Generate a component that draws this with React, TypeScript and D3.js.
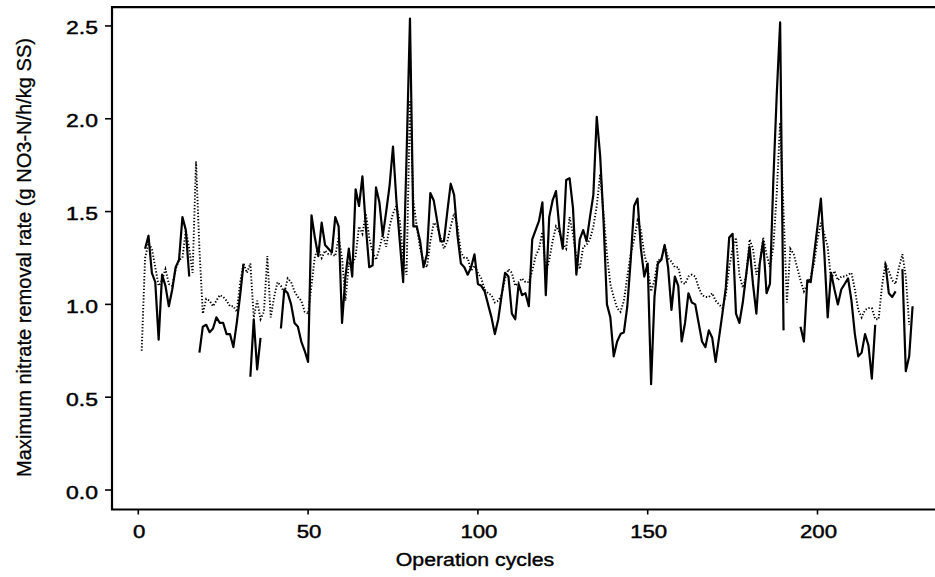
import React from "react";
import * as d3 from "d3";

// cycle = index + 1 ; null = no observation
const measured: (number | null)[] = [
  null, 1.30, 1.37, 1.17, 1.12, 0.81, 1.16, 1.10, 0.99, 1.08,
  1.20, 1.24, 1.47, 1.40, 1.15, null, null, 0.74, 0.88, 0.89,
  0.85, 0.87, 0.93, 0.90, 0.90, 0.84, 0.84, 0.77, 0.90, 1.05,
  1.22, null, 0.61, 0.92, 0.65, 0.82, null, null, null, null,
  null, 0.87, 1.08, 1.06, 1.00, 0.90, 0.88, 0.80, 0.75, 0.69,
  1.48, 1.36, 1.26, 1.44, 1.32, 1.30, 1.28, 1.47, 1.42, 0.90,
  1.15, 1.30, 1.15, 1.62, 1.53, 1.69, 1.42, 1.20, 1.21, 1.63,
  1.55, 1.37, 1.50, 1.64, 1.85, 1.56, 1.34, 1.12, 1.80, 2.54,
  1.42, 1.42, 1.34, 1.20, 1.27, 1.60, 1.56, 1.45, 1.34, 1.34,
  1.50, 1.65, 1.59, 1.37, 1.22, 1.20, 1.16, 1.20, 1.27, 1.11,
  1.10, 1.07, 1.00, 0.93, 0.84, 0.92, 1.05, 1.17, 1.15, 0.95,
  0.92, 1.11, 1.05, 1.06, 0.99, 1.35, 1.40, 1.45, 1.55, 1.05,
  1.47, 1.56, 1.61, 1.41, 1.30, 1.67, 1.68, 1.52, 1.16, 1.35,
  1.40, 1.34, 1.47, 1.59, 2.01, 1.80, 1.45, 1.00, 0.93, 0.72,
  0.80, 0.84, 0.85, 0.99, 1.24, 1.53, 1.57, 1.30, 1.15, 1.22,
  0.57, 1.04, 1.22, 1.24, 1.32, 1.20, 0.97, 1.15, 1.10, 0.80,
  0.90, 1.06, 1.01, 1.00, 0.90, 0.80, 0.77, 0.86, 0.82, 0.69,
  0.82, 0.95, 1.09, 1.36, 1.38, 0.95, 0.90, 1.01, 1.16, 1.31,
  1.11, 0.95, 1.22, 1.34, 1.06, 1.11, 1.67, 2.13, 2.52, 0.86,
  null, null, null, null, 0.88, 0.80, 1.13, 1.12, 1.27, 1.42,
  1.57, 1.28, 0.93, 1.17, 1.08, 1.00, 1.08, 1.11, 1.14, 1.02,
  0.84, 0.72, 0.74, 0.84, 0.78, 0.60, 0.89, null, null, 1.22,
  1.06, 1.04, 1.07, null, 1.19, 0.64, 0.72, 0.99,
];

const predicted: (number | null)[] = [
  0.75, 1.25, 1.33, 1.30, 1.20, 1.10, 1.13, 1.19, 1.11, 1.10,
  1.19, 1.24, 1.25, 1.40, 1.30, 1.17, 1.77, 1.30, 0.95, 1.03,
  1.02, 0.99, 1.02, 1.05, 1.04, 1.02, 0.99, 0.99, 0.96, 1.12,
  1.22, 1.17, 1.22, 0.93, 1.02, 0.92, 0.96, 1.26, 0.93, 1.04,
  1.12, 1.10, 1.06, 1.14, 1.12, 1.07, 1.04, 1.02, 0.96, 0.95,
  1.10, 1.26, 1.30, 1.25, 1.29, 1.27, 1.27, 1.26, 1.36, 1.25,
  1.02, 1.22, 1.21, 1.26, 1.42, 1.38, 1.49, 1.36, 1.28, 1.24,
  1.30, 1.38, 1.31, 1.42, 1.49, 1.53, 1.45, 1.25, 1.16, 2.10,
  1.56, 1.42, 1.30, 1.23, 1.20, 1.34, 1.44, 1.42, 1.36, 1.30,
  1.34, 1.42, 1.49, 1.42, 1.28, 1.25, 1.25, 1.18, 1.21, 1.17,
  1.14, 1.08, 1.06, 1.05, 1.01, 1.02, 1.05, 1.14, 1.19, 1.17,
  1.10, 1.12, 1.14, 1.12, 1.12, 1.18, 1.26, 1.30, 1.39, 1.17,
  1.24, 1.34, 1.42, 1.39, 1.33, 1.30, 1.47, 1.38, 1.25, 1.19,
  1.31, 1.32, 1.35, 1.42, 1.53, 1.70, 1.49, 1.27, 1.11, 1.04,
  0.98, 0.96, 1.02, 1.15, 1.27, 1.35, 1.45, 1.40, 1.27, 1.20,
  1.07, 1.13, 1.24, 1.24, 1.32, 1.25, 1.23, 1.20, 1.20, 1.12,
  1.11, 1.15, 1.16, 1.15, 1.09, 1.05, 1.04, 1.04, 1.06, 1.02,
  1.00, 0.98, 1.05, 1.20, 1.30, 1.36, 1.16, 1.09, 1.15, 1.35,
  1.30, 1.16, 1.22, 1.36, 1.27, 1.20, 1.31, 1.60, 1.98, 1.50,
  1.01, 1.30, 1.27, 1.20, 1.13, 1.07, 1.11, 1.15, 1.22, 1.35,
  1.44, 1.38, 1.31, 1.13, 1.18, 1.13, 1.15, 1.15, 1.16, 1.17,
  1.08, 0.97, 0.93, 0.97, 0.98, 0.98, 0.92, 0.92, 1.10, 1.22,
  1.18, 1.13, 1.11, 1.20, 1.27, 1.15, 0.89,
];

const xTicks = [0, 50, 100, 150, 200];
const yTicks = [0.0, 0.5, 1.0, 1.5, 2.0, 2.5];
const xTitle = "Operation cycles";
const yTitle = "Maximum nitrate removal rate (g NO3-N/h/kg SS)";

const W = 935;
const H = 577;
const FONT = "'Liberation Sans', Arial, Helvetica, sans-serif";

export default function App() {
  const x = d3.scaleLinear().domain([-7.74, 234.6]).range([112, 935]);
  const y = d3.scaleLinear().domain([-0.105, 2.601]).range([509.5, 7.2]);
  const left = x.range()[0];
  const right = x.range()[1];
  const top = y.range()[1];
  const bottom = y.range()[0];

  const line = d3
    .line<number | null>()
    .defined((d) => d != null)
    .x((_, i) => x(i + 1))
    .y((d) => y(d as number));

  return (
    <svg
      width={W}
      height={H}
      style={{ position: "absolute", left: 0, top: 0, background: "#fff" }}
      fontFamily={FONT}
    >
      <rect x={0} y={0} width={W} height={H} fill="#fff" />
      {/* frame */}
      <path
        d={`M${right},${top}H${left}V${bottom}H${right}`}
        fill="none"
        stroke="#000"
        strokeWidth={2.2}
      />
      {/* y ticks */}
      {yTicks.map((t) => (
        <g key={"y" + t}>
          <line x1={left - 7} x2={left} y1={y(t)} y2={y(t)} stroke="#000" strokeWidth={1.6} />
          <g transform={`translate(98,${y(t) + 8.5}) scale(1.24,1)`}>
            <text textAnchor="end" fontSize={18.5} fill="#000" stroke="#000" strokeWidth={0.45}>
              {t.toFixed(1)}
            </text>
          </g>
        </g>
      ))}
      {/* x ticks */}
      {xTicks.map((t) => (
        <g key={"x" + t}>
          <line x1={x(t)} x2={x(t)} y1={bottom} y2={bottom + 5} stroke="#000" strokeWidth={1.6} />
          <g transform={`translate(${x(t) + 1},538) scale(1.2,1)`}>
            <text textAnchor="middle" fontSize={18.5} fill="#000" stroke="#000" strokeWidth={0.45}>
              {t}
            </text>
          </g>
        </g>
      ))}
      {/* axis titles */}
      <g transform="translate(475,566) scale(1.15,1)">
        <text textAnchor="middle" fontSize={18.5} fill="#000" stroke="#000" strokeWidth={0.4}>
          {xTitle}
        </text>
      </g>
      <g transform="translate(31,257.5) rotate(-90)">
        <text
          textAnchor="middle"
          fontSize={21}
          fill="#000"
          stroke="#000"
          strokeWidth={0.3}
          textLength={439}
          lengthAdjust="spacingAndGlyphs"
        >
          {yTitle}
        </text>
      </g>
      {/* series */}
      <path
        d={line(predicted) || ""}
        fill="none"
        stroke="#000"
        strokeWidth={1.9}
        strokeDasharray="1.3 1.9"
      />
      <path
        d={line(measured) || ""}
        fill="none"
        stroke="#000"
        strokeWidth={2.2}
        strokeLinejoin="round"
      />
    </svg>
  );
}
